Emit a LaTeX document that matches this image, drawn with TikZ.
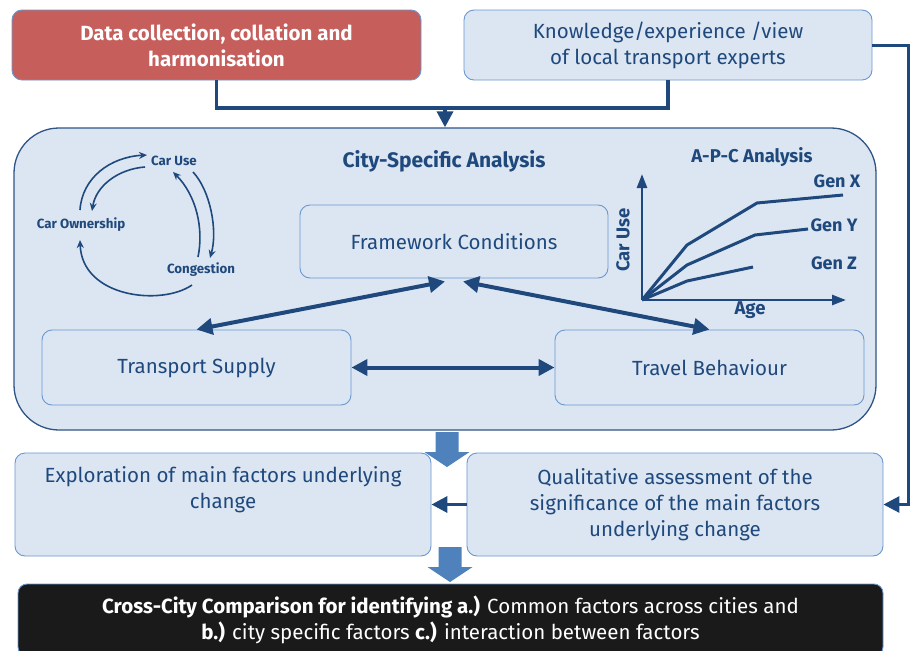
\documentclass[tikz,border=0pt]{standalone}
\usepackage{fontspec}
\setmainfont{Fira Sans}
\usetikzlibrary{arrows.meta,calc}
\definecolor{navy}{HTML}{1F497D}
\definecolor{paleblue}{HTML}{DCE6F2}
\definecolor{edgeblue}{HTML}{6A97D0}
\definecolor{frameblue}{HTML}{2F5586}
\definecolor{fatblue}{HTML}{4F81BD}
\definecolor{brick}{HTML}{C65F5C}
\definecolor{nearblack}{HTML}{1A1A1A}
\newcommand\blockdown[1]{% a broad downward arrow whose top centre is #1
  \fill[fatblue] ($#1+(-11.5,0)$) -- ++(23,0) -- ++(0,20) -- ++(11,0)
    -- ++(-22.5,15) -- ++(-22.5,-15) -- ++(11,0) -- cycle;}
\begin{document}
\begin{tikzpicture}[x=1pt,y=-1pt,
  box/.style={draw=edgeblue, line width=0.9pt, fill=paleblue, rounded corners=10pt,
    align=center, text=navy, inner sep=0pt},
  boxfont/.style={font=\fontsize{20.5}{26}\selectfont},
  conn/.style={draw=navy, line width=3.5pt},
  bigtip/.style={-{Triangle[length=16pt,width=16pt]}},
  bothtips/.style={{Triangle[length=16pt,width=16pt]}-{Triangle[length=16pt,width=16pt]}},
  loop/.style={draw=navy, line width=1.6pt, -{Stealth[length=8pt,width=7pt]}},
  cyclelabel/.style={text=navy, font=\bfseries\fontsize{13.3}{15}\selectfont, inner sep=1pt},
  chartlabel/.style={text=navy, font=\bfseries\fontsize{18.5}{22}\selectfont, inner sep=1pt},
  axis/.style={draw=navy, line width=2.6pt, -{Triangle[length=14pt,width=10pt]}},
  gen/.style={draw=navy, line width=3pt, line join=round},
]
\useasboundingbox (0,0) rectangle (914,651);
\clip (0,0) rectangle (914,651);

% source boxes
\node[box, fill=brick, text=white, font=\bfseries\fontsize{20.5}{26}\selectfont,
  minimum width=409pt, minimum height=70pt] (data) at (216.5,45)
  {Data collection, collation and\\harmonisation};
\node[box, boxfont, minimum width=408pt, minimum height=70pt] (know) at (668,45)
  {Knowledge/experience /view\\of local transport experts};

% city-specific analysis panel
\node[draw=frameblue, line width=1.3pt, fill=paleblue, rounded corners=45pt,
  minimum width=862pt, minimum height=302pt, inner sep=0pt] (city) at (445,279) {};
\node[text=navy, font=\bfseries\fontsize{21}{24}\selectfont] (citytitle) at (444,161)
  {City-Specific Analysis};

\node[box, boxfont, minimum width=308pt, minimum height=73pt] (fw) at (454,241.5)
  {Framework Conditions};
\node[box, boxfont, minimum width=309pt, minimum height=75pt] (ts) at (196.5,367.5)
  {Transport Supply};
\node[box, boxfont, minimum width=309pt, minimum height=75pt] (tb) at (709.5,367.5)
  {Travel Behaviour};

% interactions inside the panel
\draw[conn, line width=4pt, bothtips] (ts.north) -- ($(fw.south)+(-9,3)$);
\draw[conn, line width=4pt, bothtips] ($(fw.south)+(9,3)$) -- (tb.north);
\draw[conn, line width=4pt, bothtips] (ts.east) -- (tb.west);

% car ownership / use / congestion cycle
\node[cyclelabel] (caruse) at (174,161) {Car Use};
\node[cyclelabel] (carown) at (81,225) {Car Ownership};
\node[cyclelabel] (cong) at (201,270) {Congestion};
\draw[loop] (80,210) .. controls (82,178) and (110,157) .. (147,155);
\draw[loop] (145,167) .. controls (118,169) and (96,186) .. (92,211);
\draw[loop] (198,257) .. controls (204,228) and (196,195) .. (173,172);
\draw[loop] (193,172) .. controls (210,190) and (218,230) .. (210,258);
\draw[loop] (192,285) .. controls (162,306) and (82,298) .. (80,240);

% age-period-cohort chart
\node[chartlabel] (apc) at (752,157) {A-P-C Analysis};
\coordinate (origin) at (642,300);
\draw[axis] (origin) -- (642,174);
\draw[axis] (origin) -- (846,300);
\node[chartlabel, rotate=90] (ylab) at (623,240) {Car Use};
\node[chartlabel] (xlab) at (750,310) {Age};
\draw[gen] (origin) -- (687,245) -- (757,203) -- (843,195);
\draw[gen] (origin) -- (687,265) -- (755,235) -- (808,229);
\draw[gen] (origin) -- (687,281) -- (753,267);
\node[chartlabel, font=\bfseries\fontsize{18}{22}\selectfont] (genx) at (837,181) {Gen X};
\node[chartlabel, font=\bfseries\fontsize{18}{22}\selectfont] (geny) at (834,225) {Gen Y};
\node[chartlabel, font=\bfseries\fontsize{18}{22}\selectfont] (genz) at (834,263) {Gen Z};

% inputs feeding the analysis
\coordinate (join) at (445,108);
\draw[conn] (data.south) |- (join) -| (know.south);
\draw[conn, bigtip] (join) -- (join |- city.north);

% follow-up steps
\node[box, boxfont, minimum width=416pt, minimum height=103pt] (expl) at (223,504.5)
  {Exploration of main factors underlying\\change\\\strut};
\node[box, boxfont, minimum width=416pt, minimum height=103pt] (qual) at (675,504.5)
  {Qualitative assessment of the\\significance of the main factors\\underlying change};
\coordinate (rail) at (908,0);
\draw[conn, line width=3pt, bigtip] (know.east) -| (rail |- qual.east) -- (qual.east);
\draw[conn, bigtip] (qual.west) -- (expl.east);

\node[box, draw=edgeblue, fill=nearblack, text=white, rounded corners=9pt,
  font=\fontsize{20.5}{26}\selectfont, minimum width=865pt, minimum height=72pt]
  (cmp) at (450.5,620)
  {\textbf{Cross-City Comparison for identifying a.)} Common factors across cities and\\
   \textbf{b.)} city specific factors \textbf{c.)} interaction between factors};

% broad arrows between stages
\blockdown{(447,432)}
\blockdown{(450,547)}
\end{tikzpicture}
\end{document}
